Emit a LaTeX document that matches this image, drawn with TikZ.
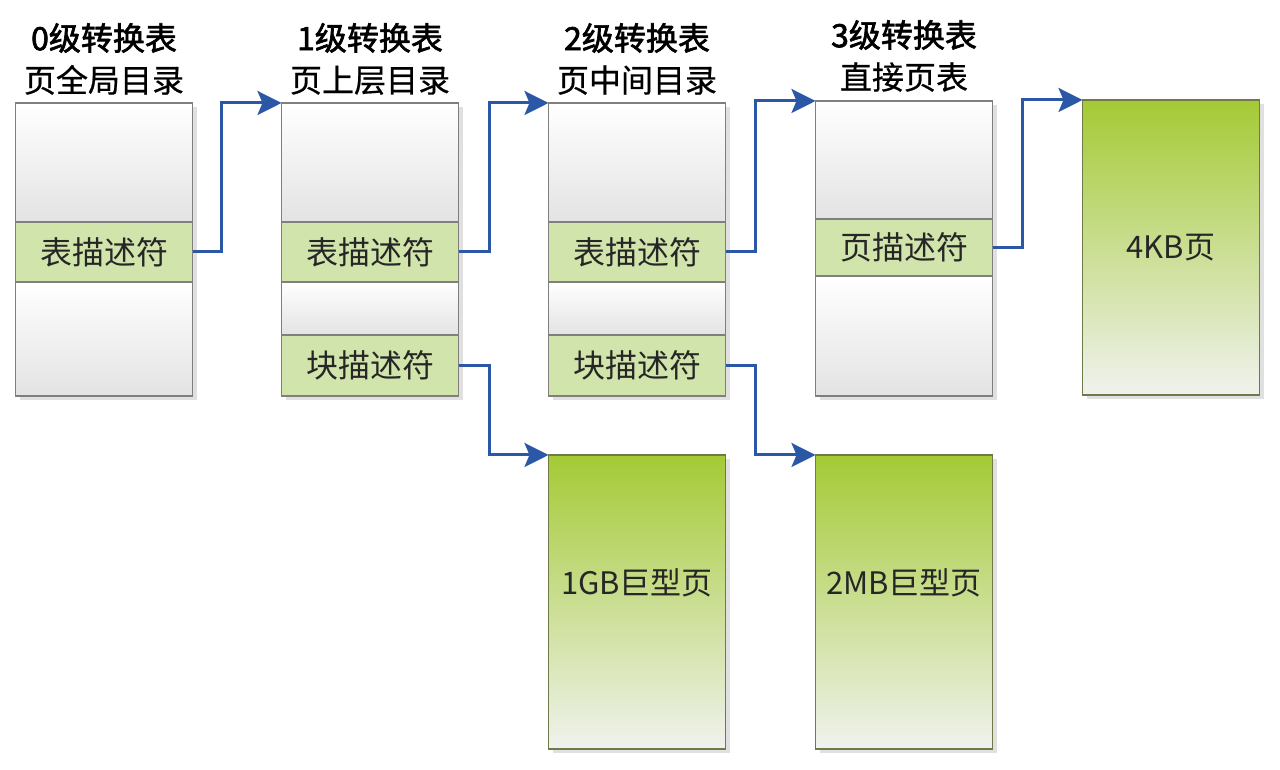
\documentclass[tikz,border=0pt]{standalone}
\usepackage{fontspec}
\setmainfont{Noto Sans CJK SC}
\newfontfamily\headfont[FakeBold=2]{Noto Sans CJK SC}
\newfontfamily\subfont[FakeBold=0.6]{Noto Sans CJK SC}
\usepackage{tikz}
\usetikzlibrary{arrows.meta,positioning,shadows}

\definecolor{rowgray}{HTML}{E3E3E3}
\definecolor{rowline}{HTML}{7F7F7F}
\definecolor{descgreen}{HTML}{D1E4AB}
\definecolor{pagetop}{HTML}{A4CA35}
\definecolor{pagebot}{HTML}{F0F2EE}
\definecolor{pageline}{HTML}{6E7A48}
\definecolor{linkblue}{HTML}{2B57A7}

\tikzset{
  entry/.style={draw=rowline, line width=1.2pt, minimum width=177pt, inner sep=0pt, outer sep=0pt,
    drop shadow={shadow xshift=4pt, shadow yshift=-4pt, fill=black, opacity=0.12}},
  blank/.style={entry, top color=white, bottom color=rowgray},
  desc/.style={entry, fill=descgreen, text=black!85, font=\fontsize{32}{32}\selectfont},
  page/.style={entry, draw=pageline, top color=pagetop, bottom color=pagebot, anchor=north,
    text=black!85, font=\fontsize{31}{31}\selectfont},
  title/.style={align=center, font=\fontsize{32}{42}\selectfont},
  link/.style={draw=linkblue, line width=3pt, -{Stealth[length=24pt,width=24pt,inset=5pt]}},
}

\begin{document}
\begin{tikzpicture}[x=1pt, y=1pt, node distance=0pt]
  \useasboundingbox (0,0) rectangle (1280,770);

  % 0级
  \node[blank, minimum height=119pt, anchor=north] (t0a) at (104,667) {};
  \node[desc, minimum height=60pt, below=of t0a] (t0b) {表描述符};
  \node[blank, minimum height=114pt, below=of t0b] (t0c) {};
  \node[title] (h0) at (104,711) {{\headfont 0级转换表}\\{\subfont 页全局目录}};

  % 1级
  \node[blank, minimum height=119pt, anchor=north] (t1a) at (370,667) {};
  \node[desc, minimum height=60pt, below=of t1a] (t1b) {表描述符};
  \node[blank, minimum height=53pt, below=of t1b] (t1c) {};
  \node[desc, minimum height=61pt, below=of t1c] (t1d) {块描述符};
  \node[title] (h1) at (370,711) {{\headfont 1级转换表}\\{\subfont 页上层目录}};

  % 2级
  \node[blank, minimum height=119pt, anchor=north] (t2a) at (637,667) {};
  \node[desc, minimum height=60pt, below=of t2a] (t2b) {表描述符};
  \node[blank, minimum height=53pt, below=of t2b] (t2c) {};
  \node[desc, minimum height=61pt, below=of t2c] (t2d) {块描述符};
  \node[title] (h2) at (637,711) {{\headfont 2级转换表}\\{\subfont 页中间目录}};

  % 3级
  \node[blank, minimum height=118pt, anchor=north] (t3a) at (904,669) {};
  \node[desc, minimum height=57pt, below=of t3a] (t3b) {页描述符};
  \node[blank, minimum height=120pt, below=of t3b] (t3c) {};
  \node[title] (h3) at (904,714) {{\headfont 3级转换表}\\{\subfont 直接页表}};

  % pages
  \node[page, minimum height=295pt] (p3) at (1171,670) {4KB页};
  \node[page, minimum height=294pt, text depth=40pt] (p1) at (637,315) {1GB巨型页};
  \node[page, minimum height=294pt, text depth=40pt] (p2) at (904,315) {2MB巨型页};

  \draw[link] (t0b.east) -- ++(29,0) |- (t1a.north west);
  \draw[link] (t1b.east) -- ++(31,0) |- (t2a.north west);
  \draw[link] (t2b.east) -- ++(30,0) |- (t3a.north west);
  \draw[link] (t3b.east) -- ++(30,0) |- (p3.north west);
  \draw[link] (t1d.east) -- ++(31,0) |- (p1.north west);
  \draw[link] (t2d.east) -- ++(30,0) |- (p2.north west);
\end{tikzpicture}
\end{document}
